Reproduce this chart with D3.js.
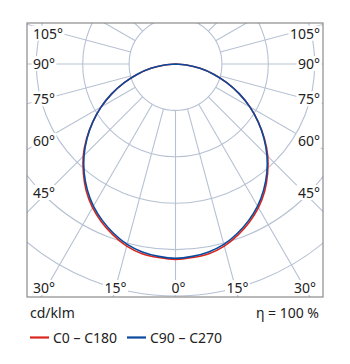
<!DOCTYPE html>
<html>
<head>
<meta charset="utf-8">
<script src="https://cdn.jsdelivr.net/npm/d3@7"></script>
<style>
  body { margin: 0; background: #fff; }
  svg { font-family: "Noto Sans", sans-serif; }
</style>
</head>
<body>
<script>
// gamma angles (deg from nadir) and intensities in cd/klm
const gammas = [0, 5, 10, 15, 20, 25, 30, 35, 40, 45, 50, 55, 60, 65, 70, 75, 80, 85, 90];
const c0c180 = [337, 335, 332, 325, 314, 301, 286, 268, 247, 225, 200, 174, 148, 121, 94, 68, 43, 19, 0];
const c90c270 = [335, 333, 329, 322, 311, 298, 283, 265, 245, 223, 199, 174, 148, 121, 94, 68, 43, 19, 0];
const rings = [80, 160, 240, 320, 400, 480];
const sideTicks = [45, 60, 75, 90, 105];
const bottomTicks = [0, 15, 30];
const series = [
    {name: "C0 \u2013 C180", values: c0c180, color: "#d9261c"},
    {name: "C90 \u2013 C270", values: c90c270, color: "#0a4a9e"}
];

const width = 350, height = 364;
const box = {x0: 27, y0: 23, x1: 323, y1: 297};
const cx = 175.5, cy = 64;

let svg = d3.select("body").append("svg")
    .attr("width", width)
    .attr("height", height);

let r = d3.scaleLinear().domain([0, 400]).range([0, 232]);
let rad = d3.scaleLinear().domain([0, 180]).range([0, Math.PI]);

svg.append("clipPath").attr("id", "clip")
    .append("rect")
    .attr("x", box.x0).attr("y", box.y0)
    .attr("width", box.x1 - box.x0).attr("height", box.y1 - box.y0);

let grid = svg.append("g")
    .attr("clip-path", "url(#clip)")
    .attr("fill", "none")
    .attr("stroke", "#b7c1d4")
    .attr("stroke-width", 1.1);

grid.selectAll("circle")
    .data(rings)
    .enter().append("circle")
    .attr("cx", cx).attr("cy", cy)
    .attr("r", d => r(d));

// radial lines every 15 degrees, starting at the inner ring
let spokes = d3.range(-165, 181, 15);
grid.selectAll("line")
    .data(spokes)
    .enter().append("line")
    .attr("x1", d => cx + r(rings[0]) * Math.sin(rad(d)))
    .attr("y1", d => cy + r(rings[0]) * Math.cos(rad(d)))
    .attr("x2", d => cx + 600 * Math.sin(rad(d)))
    .attr("y2", d => cy + 600 * Math.cos(rad(d)));

// curves
let radial = d3.lineRadial()
    .angle(d => d.a)
    .radius(d => r(d.v))
    .curve(d3.curveCatmullRom.alpha(0.5));

series.forEach(function (s) {
    let pts = [];
    for (let i = gammas.length - 1; i >= 0; i--) pts.push({a: Math.PI + rad(gammas[i]), v: s.values[i]});
    for (let i = 1; i < gammas.length; i++) pts.push({a: Math.PI - rad(gammas[i]), v: s.values[i]});
    svg.append("path")
        .attr("transform", "translate(" + cx + "," + cy + ")")
        .attr("d", radial(pts))
        .attr("fill", "none")
        .attr("stroke", s.color)
        .attr("stroke-width", 1.6);
});

// frame
svg.append("rect")
    .attr("x", box.x0).attr("y", box.y0)
    .attr("width", box.x1 - box.x0).attr("height", box.y1 - box.y0)
    .attr("fill", "none")
    .attr("stroke", "#8a8a8a")
    .attr("stroke-width", 1.2);

// angle labels
let nudge = {105: 4, 75: 1, 60: 3, 45: 1, 90: 0};
let labels = [];
sideTicks.forEach(function (a) {
    let y = cy + 128 / Math.tan(rad(a)) + nudge[a];
    labels.push({t: a + "\u00b0", x: 33, y: y, anchor: "start"});
    labels.push({t: a + "\u00b0", x: 320, y: y, anchor: "end"});
});
bottomTicks.forEach(function (a) {
    let dx = 224 * Math.tan(rad(a));
    if (a === 0) {
        labels.push({t: a + "\u00b0", x: cx + 3, y: 288, anchor: "middle"});
    } else if (a === 30) {
        labels.push({t: a + "\u00b0", x: 33, y: 288, anchor: "start"});
        labels.push({t: a + "\u00b0", x: 316, y: 288, anchor: "end"});
    } else {
        labels.push({t: a + "\u00b0", x: cx - dx, y: 288, anchor: "middle"});
        labels.push({t: a + "\u00b0", x: cx + dx + 2, y: 288, anchor: "middle"});
    }
});

let lab = svg.selectAll(".lab")
    .data(labels)
    .enter().append("g")
    .attr("class", "lab");

let txt = lab.append("text")
    .attr("x", d => d.x)
    .attr("y", d => d.y + 5)
    .attr("text-anchor", d => d.anchor)
    .attr("font-size", 14)
    .attr("fill", "#222")
    .text(d => d.t);

txt.each(function () {
    let b = this.getBBox();
    d3.select(this.parentNode).insert("rect", "text")
        .attr("x", b.x - 1.5).attr("y", b.y + 2)
        .attr("width", b.width + 3).attr("height", b.height - 4)
        .attr("fill", "#fff");
});

svg.append("text")
    .attr("x", 30).attr("y", 318)
    .attr("font-size", 14).attr("fill", "#222")
    .text("cd/klm");

svg.append("text")
    .attr("x", 319).attr("y", 318)
    .attr("text-anchor", "end")
    .attr("font-size", 14).attr("fill", "#222")
    .text("\u03b7 = 100 %");

// legend
let legX = [30, 127];
series.forEach(function (s, i) {
    svg.append("line")
        .attr("x1", legX[i]).attr("x2", legX[i] + 19)
        .attr("y1", 337.5).attr("y2", 337.5)
        .attr("stroke", s.color)
        .attr("stroke-width", 2.2);
    svg.append("text")
        .attr("x", legX[i] + 23).attr("y", 343)
        .attr("font-size", 14).attr("fill", "#222")
        .text(s.name);
});
</script>
</body>
</html>
